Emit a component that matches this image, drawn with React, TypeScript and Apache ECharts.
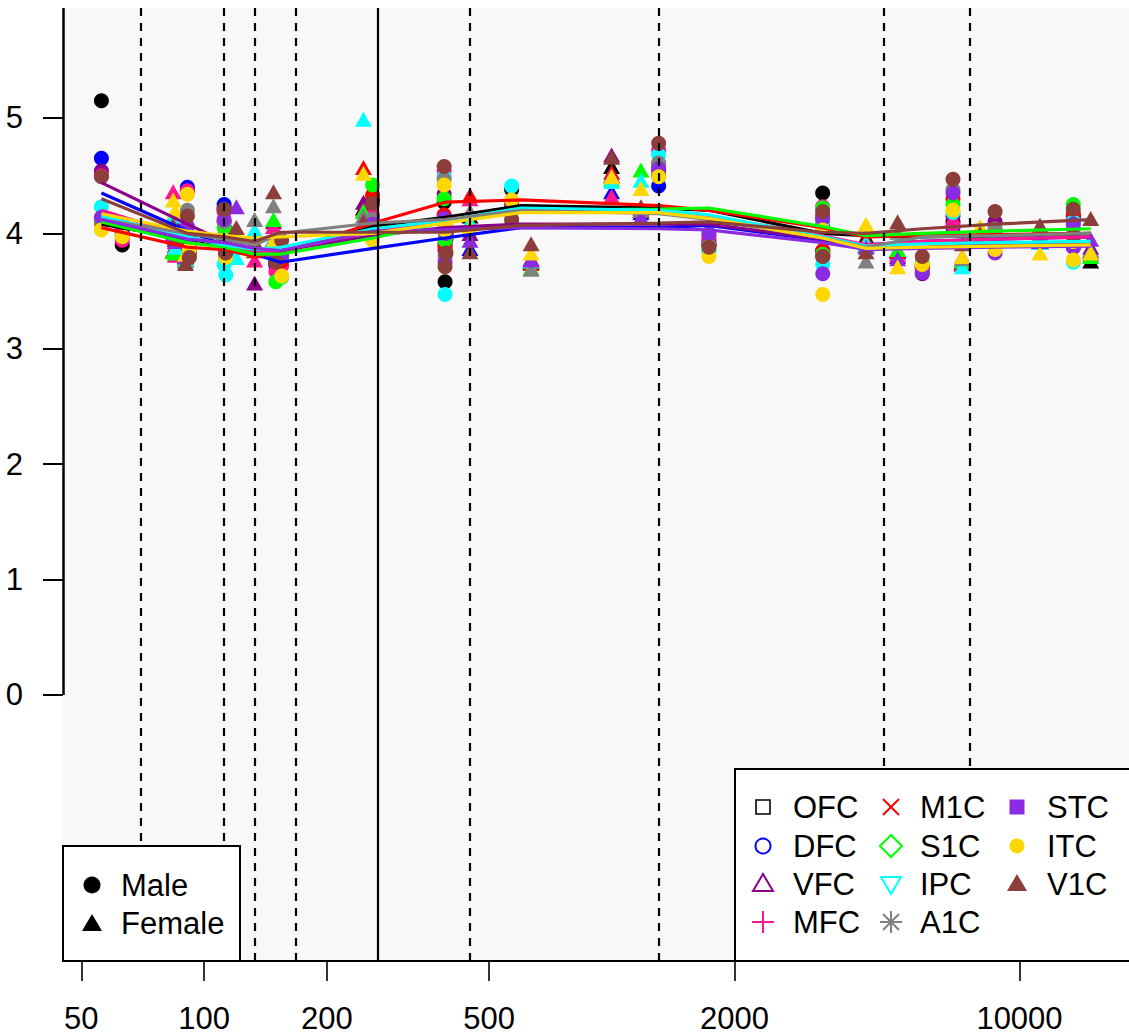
import React, { useEffect, useRef } from "react";
import * as echarts from "echarts";

// ---------- data ----------
const regions = ["OFC", "DFC", "VFC", "MFC", "M1C", "S1C", "IPC", "A1C", "STC", "ITC", "V1C"];
const regionColors = ["#000000", "#0000FF", "#8B008B", "#FF1493", "#FF0000", "#00FF00", "#00FFFF", "#808080", "#8A2BE2", "#FFD700", "#8B3E3A"];

const sampleAges = [56, 63, 84, 85, 91, 92, 90, 112, 113, 120, 133, 148, 150, 155, 246, 259, 388, 390, 392, 449, 568, 634, 999, 1179, 1303, 1731, 3290, 3292, 4203, 5025, 5775, 6869, 7238, 8000, 8710, 11226, 13550, 13555, 14950];
const sampleSex = ["M", "M", "F", "F", "M", "M", "F", "M", "M", "F", "F", "F", "M", "M", "F", "M", "M", "M", "M", "F", "M", "F", "F", "F", "M", "M", "M", "M", "F", "F", "M", "M", "F", "F", "M", "F", "M", "M", "F"];

const ofc = [5.15, 3.90, 4.05, 3.95, 4.38, 3.85, 3.78, 4.22, 3.85, 3.95, 3.90, 3.95, 3.75, 3.78, 4.22, 4.28, 4.27, 3.58, 4.00, 4.15, 4.38, 3.75, 4.58, 4.20, 4.50, 3.90, 4.35, 3.85, 3.97, 3.85, 3.70, 4.10, 3.75, 3.95, 3.95, 3.92, 4.15, 3.90, 3.76];
const dfc = [4.65, 4.02, 4.10, 3.98, 4.40, 3.95, 3.80, 4.25, 4.03, 3.93, 3.88, 3.90, 3.72, 3.77, 4.10, 4.05, 4.10, 3.90, 3.95, 3.87, 4.20, 3.76, 4.36, 4.18, 4.41, 3.92, 4.05, 3.83, 3.90, 3.84, 3.72, 4.05, 3.76, 3.95, 3.97, 3.93, 4.12, 3.88, 3.85];
const vfc = [4.54, 4.01, 4.12, 3.97, 4.36, 3.90, 3.78, 4.20, 3.82, 3.97, 3.57, 4.10, 3.74, 3.80, 4.27, 4.10, 4.34, 3.85, 4.00, 4.00, 4.22, 3.78, 4.68, 4.22, 4.55, 3.95, 4.10, 3.82, 3.90, 3.80, 3.65, 4.15, 3.78, 3.97, 4.10, 3.93, 4.10, 3.90, 3.88];
const mfc = [4.50, 3.94, 4.36, 3.81, 4.37, 3.80, 3.76, 4.19, 4.02, 3.90, 3.77, 4.06, 3.67, 3.72, 4.20, 4.15, 4.54, 3.92, 4.02, 4.30, 4.25, 3.76, 4.32, 4.20, 4.72, 3.98, 4.23, 3.80, 3.92, 3.82, 3.70, 4.07, 3.73, 3.95, 3.98, 3.92, 4.12, 3.88, 3.82];
const m1c = [4.09, 3.98, 3.85, 3.90, 4.00, 3.82, 3.80, 4.10, 3.80, 3.92, 3.85, 3.95, 3.78, 3.76, 4.57, 4.33, 4.16, 3.88, 3.97, 4.33, 4.25, 3.74, 4.53, 4.20, 4.60, 3.90, 4.15, 3.85, 3.95, 3.85, 3.72, 4.30, 3.74, 3.97, 4.00, 3.93, 4.17, 3.90, 3.84];
const s1c = [4.11, 4.00, 3.84, 3.83, 4.00, 3.80, 3.77, 4.05, 3.78, 3.88, 3.86, 4.12, 3.58, 3.62, 4.19, 4.42, 4.30, 3.94, 3.98, 4.10, 4.10, 3.70, 4.47, 4.55, 4.58, 3.85, 4.22, 3.82, 3.90, 3.86, 3.74, 4.25, 3.76, 3.97, 4.02, 3.95, 4.25, 3.92, 3.80];
const ipc = [4.23, 4.05, 4.15, 3.88, 4.05, 3.88, 3.78, 3.73, 3.64, 3.79, 4.03, 3.95, 3.80, 3.85, 4.99, 4.10, 4.49, 3.47, 4.02, 4.09, 4.41, 3.76, 4.45, 4.46, 4.68, 3.85, 4.10, 3.73, 3.92, 3.93, 3.75, 4.18, 3.71, 3.95, 3.95, 3.92, 4.10, 3.75, 3.84];
const a1c = [4.12, 4.04, 4.08, 3.97, 4.20, 3.90, 3.79, 4.10, 3.85, 3.96, 4.12, 4.24, 3.76, 3.80, 4.15, 4.12, 4.47, 3.80, 4.05, 4.19, 4.20, 3.69, 4.50, 4.20, 4.61, 3.90, 4.12, 3.80, 3.76, 4.01, 3.67, 4.38, 3.78, 3.97, 4.04, 4.00, 4.04, 3.90, 3.85];
const stc = [4.14, 4.03, 4.00, 3.93, 4.06, 3.93, 3.80, 4.12, 3.80, 4.23, 3.90, 3.90, 3.80, 3.82, 4.10, 4.08, 4.13, 3.75, 4.00, 3.94, 4.22, 3.77, 4.50, 4.14, 4.56, 4.00, 4.13, 3.65, 3.88, 3.78, 3.66, 4.35, 3.80, 3.94, 3.83, 3.93, 4.08, 3.88, 3.95];
const itc = [4.03, 3.97, 4.29, 4.20, 4.34, 3.86, 3.82, 3.94, 3.79, 3.98, 3.92, 3.93, 3.93, 3.63, 4.52, 3.94, 4.42, 4.03, 4.05, 4.06, 4.29, 3.83, 4.49, 4.39, 4.49, 3.80, 4.03, 3.47, 4.08, 3.71, 3.73, 4.20, 3.80, 4.06, 3.86, 3.83, 3.93, 3.77, 3.83];
const v1c = [4.49, 4.09, 4.06, 3.96, 4.15, 3.79, 3.74, 4.21, 3.83, 4.05, 3.93, 4.36, 3.75, 3.94, 4.10, 4.26, 4.58, 3.71, 3.83, 3.84, 4.12, 3.91, 4.66, 4.23, 4.78, 3.88, 4.19, 3.80, 3.84, 4.10, 3.80, 4.47, 3.91, 4.00, 4.19, 4.07, 4.21, 3.97, 4.13];

const fitAges = [56, 91, 112, 133, 154, 260, 390, 600, 1303, 1731, 3291, 4203, 5775, 8710, 14950];
const fitOFC = [4.08, 3.95, 3.90, 3.84, 3.83, 4.06, 4.14, 4.24, 4.22, 4.20, 4.00, 3.98, 3.97, 3.98, 4.00];
const fitDFC = [4.35, 4.02, 3.90, 3.82, 3.75, 3.87, 3.96, 4.05, 4.05, 4.07, 3.94, 3.90, 3.93, 3.95, 3.97];
const fitVFC = [4.44, 4.08, 3.93, 3.85, 3.85, 3.98, 4.05, 4.08, 4.08, 4.08, 3.95, 3.88, 3.88, 3.90, 3.92];
const fitMFC = [4.20, 3.97, 3.90, 3.83, 3.85, 4.02, 4.10, 4.20, 4.18, 4.15, 3.98, 3.90, 3.93, 3.95, 3.97];
const fitM1C = [4.05, 3.88, 3.86, 3.80, 3.83, 4.09, 4.27, 4.29, 4.24, 4.20, 4.05, 3.97, 3.98, 3.99, 4.00];
const fitS1C = [4.10, 3.92, 3.88, 3.82, 3.82, 3.96, 4.10, 4.20, 4.21, 4.22, 4.06, 3.98, 4.00, 4.02, 4.04];
const fitIPC = [4.15, 3.97, 3.90, 3.86, 3.88, 4.04, 4.11, 4.22, 4.20, 4.16, 3.97, 3.89, 3.91, 3.92, 3.93];
const fitA1C = [4.12, 4.00, 3.95, 3.90, 4.00, 4.09, 4.12, 4.20, 4.17, 4.12, 3.96, 3.88, 3.97, 3.98, 4.00];
const fitSTC = [4.12, 3.95, 3.92, 3.87, 3.85, 4.02, 4.03, 4.05, 4.04, 4.03, 3.92, 3.86, 3.87, 3.88, 3.89];
const fitITC = [4.17, 4.02, 3.98, 3.96, 3.97, 4.00, 4.09, 4.18, 4.18, 4.13, 3.96, 3.87, 3.88, 3.89, 3.90];
const fitV1C = [4.30, 4.00, 3.97, 3.93, 4.01, 4.01, 4.01, 4.07, 4.09, 4.10, 4.01, 4.00, 4.04, 4.08, 4.12];

const xTicks = [50, 100, 200, 500, 2000, 10000];
const yTicks = [0, 1, 2, 3, 4, 5];
const dashedLines = [70, 112, 133, 168, 449, 1303, 4646, 7566];
const birthLine = 266;
const xMin = 45.08;
const xMax = 18560;
const yMin = -2.305;
const yMax = 5.953;

const sexLabels = ["Male", "Female"];
const legendKinds = ["sq", "circ", "tri", "plus", "x", "dia", "dtri", "ast", "fsq", "fcirc", "ftri"];

// ---------- component ----------
const FONT = '"Liberation Sans", Arial, Helvetica, sans-serif';
const LZ = 100;

function legendSymbol(kind: string, cx: number, cy: number, color: string): any[] {
  const st = { stroke: color, lineWidth: 2, fill: "none" };
  let els: any[];
  switch (kind) {
    case "sq":
      els = [{ type: "rect", shape: { x: cx - 7, y: cy - 7, width: 14, height: 14 }, style: { ...st, lineWidth: 1.6 } }];
      break;
    case "circ":
      els = [{ type: "circle", shape: { cx, cy, r: 7.5 }, style: st }];
      break;
    case "tri":
      els = [{ type: "polygon", shape: { points: [[cx - 10, cy + 7], [cx + 10, cy + 7], [cx, cy - 10]] }, style: st }];
      break;
    case "plus":
      els = [
        { type: "line", shape: { x1: cx - 11, y1: cy, x2: cx + 11, y2: cy }, style: st },
        { type: "line", shape: { x1: cx, y1: cy - 11, x2: cx, y2: cy + 11 }, style: st },
      ];
      break;
    case "x":
      els = [
        { type: "line", shape: { x1: cx - 8, y1: cy - 8, x2: cx + 8, y2: cy + 8 }, style: st },
        { type: "line", shape: { x1: cx - 8, y1: cy + 8, x2: cx + 8, y2: cy - 8 }, style: st },
      ];
      break;
    case "dia":
      els = [{ type: "polygon", shape: { points: [[cx, cy - 11], [cx + 11, cy], [cx, cy + 11], [cx - 11, cy]] }, style: st }];
      break;
    case "dtri":
      els = [{ type: "polygon", shape: { points: [[cx - 10, cy - 7], [cx + 10, cy - 7], [cx, cy + 10]] }, style: st }];
      break;
    case "ast":
      els = [
        { type: "line", shape: { x1: cx - 11, y1: cy, x2: cx + 11, y2: cy }, style: st },
        { type: "line", shape: { x1: cx, y1: cy - 11, x2: cx, y2: cy + 11 }, style: st },
        { type: "line", shape: { x1: cx - 8, y1: cy - 8, x2: cx + 8, y2: cy + 8 }, style: st },
        { type: "line", shape: { x1: cx - 8, y1: cy + 8, x2: cx + 8, y2: cy - 8 }, style: st },
      ];
      break;
    case "fsq":
      els = [{ type: "rect", shape: { x: cx - 7.5, y: cy - 7.5, width: 15, height: 15 }, style: { fill: color } }];
      break;
    case "fcirc":
      els = [{ type: "circle", shape: { cx, cy, r: 7.5 }, style: { fill: color } }];
      break;
    case "ftri":
    default:
      els = [{ type: "polygon", shape: { points: [[cx - 10, cy + 7], [cx + 10, cy + 7], [cx, cy - 10]] }, style: { fill: color } }];
  }
  return els.map((e) => ({ ...e, z: LZ + 1 }));
}

export default function App() {
  const ref = useRef<HTMLDivElement>(null);
  useEffect(() => {
    if (!ref.current) return;
    const chart = echarts.init(ref.current, null, { renderer: "svg" });
    const values = [ofc, dfc, vfc, mfc, m1c, s1c, ipc, a1c, stc, itc, v1c];
    const fits = [fitOFC, fitDFC, fitVFC, fitMFC, fitM1C, fitS1C, fitIPC, fitA1C, fitSTC, fitITC, fitV1C];

    const series: any[] = [];
    const dashStyle = { type: [8, 7], color: "#000", width: 2.2 };
    series.push({
      type: "scatter",
      data: [],
      silent: true,
      clip: false,
      markLine: {
        symbol: ["none", "none"],
        silent: true,
        animation: false,
        label: { show: false },
        emphasis: { disabled: true },
        data: [
          ...dashedLines.map((v) => ({ xAxis: v, lineStyle: dashStyle })),
          { xAxis: birthLine, lineStyle: { type: "solid", color: "#000", width: 2.2 } },
          [
            { coord: [xMin, 0], lineStyle: { type: "solid", color: "#000", width: 2.5 } },
            { coord: [xMin, yMax] },
          ],
        ],
      },
    });

    regions.forEach((r, ri) => {
      series.push({
        name: r,
        type: "scatter",
        silent: true,
        data: sampleAges.map((a, i) => ({
          value: [a, values[ri][i]],
          symbol: sampleSex[i] === "M" ? "circle" : "triangle",
          symbolSize: sampleSex[i] === "M" ? 15 : [17, 15],
        })),
        itemStyle: { color: regionColors[ri], opacity: 1 },
      });
      series.push({
        name: r + " fit",
        type: "line",
        silent: true,
        showSymbol: false,
        symbol: "none",
        data: fitAges.map((a, i) => [a, fits[ri][i]]),
        lineStyle: { color: regionColors[ri], width: 3.2 },
      });
    });

    // legends
    const rowY = [807, 846, 884, 922];
    const colSym = [763, 891, 1017];
    const colTxt = [793, 920, 1047];
    const textStyle = (x: number, y: number, text: string) => ({
      type: "text",
      z: LZ + 1,
      style: { x, y, text, fill: "#000", font: `31px ${FONT}`, align: "left", verticalAlign: "middle" },
    });
    const legendChildren: any[] = [
      { type: "rect", z: LZ, shape: { x: 735, y: 769, width: 420, height: 192 }, style: { fill: "#fff", stroke: "#000", lineWidth: 2 } },
    ];
    regions.forEach((r, i) => {
      const col = Math.floor(i / 4);
      const row = i % 4;
      legendChildren.push(...legendSymbol(legendKinds[i], colSym[col], rowY[row], regionColors[i]));
      legendChildren.push(textStyle(colTxt[col], rowY[row], r));
    });
    const sexChildren: any[] = [
      { type: "rect", z: LZ, shape: { x: 63, y: 846, width: 177, height: 115 }, style: { fill: "#fff", stroke: "#000", lineWidth: 2 } },
      { type: "circle", z: LZ + 1, shape: { cx: 92, cy: 885, r: 8.5 }, style: { fill: "#000" } },
      { type: "polygon", z: LZ + 1, shape: { points: [[82, 931], [102, 931], [92, 914]] }, style: { fill: "#000" } },
      textStyle(121, 885, sexLabels[0]),
      textStyle(121, 923, sexLabels[1]),
    ];

    chart.setOption({
      animation: false,
      backgroundColor: "#ffffff",
      textStyle: { fontFamily: FONT },
      grid: {
        left: 63,
        top: 8,
        right: 0,
        bottom: 73,
        show: true,
        backgroundColor: "#F8F8F8",
        borderWidth: 0,
        containLabel: false,
      },
      xAxis: {
        type: "log",
        logBase: 10,
        min: xMin,
        max: xMax,
        axisLine: { show: true, onZero: false, lineStyle: { color: "#000", width: 2 } },
        axisTick: { show: true, length: 20, lineStyle: { color: "#000", width: 1.6 }, customValues: xTicks },
        axisLabel: {
          show: true,
          customValues: xTicks,
          formatter: (v: number) => String(Math.round(v)),
          fontSize: 31,
          lineHeight: 26,
          color: "#000",
          margin: 44,
          fontFamily: FONT,
        },
        splitLine: { show: false },
        minorTick: { show: false },
      },
      yAxis: {
        type: "value",
        min: yMin,
        max: yMax,
        axisLine: { show: false },
        axisTick: { show: true, length: 20, lineStyle: { color: "#000", width: 2 }, customValues: yTicks },
        axisLabel: { show: true, customValues: yTicks, fontSize: 31, color: "#000", margin: 40, fontFamily: FONT },
        splitLine: { show: false },
      },
      series,
      graphic: [
        { type: "group", z: LZ, children: legendChildren },
        { type: "group", z: LZ, children: sexChildren },
      ],
    });
    return () => chart.dispose();
  }, []);
  return <div ref={ref} style={{ position: "absolute", left: 0, top: 0, width: 1129, height: 1034 }} />;
}
